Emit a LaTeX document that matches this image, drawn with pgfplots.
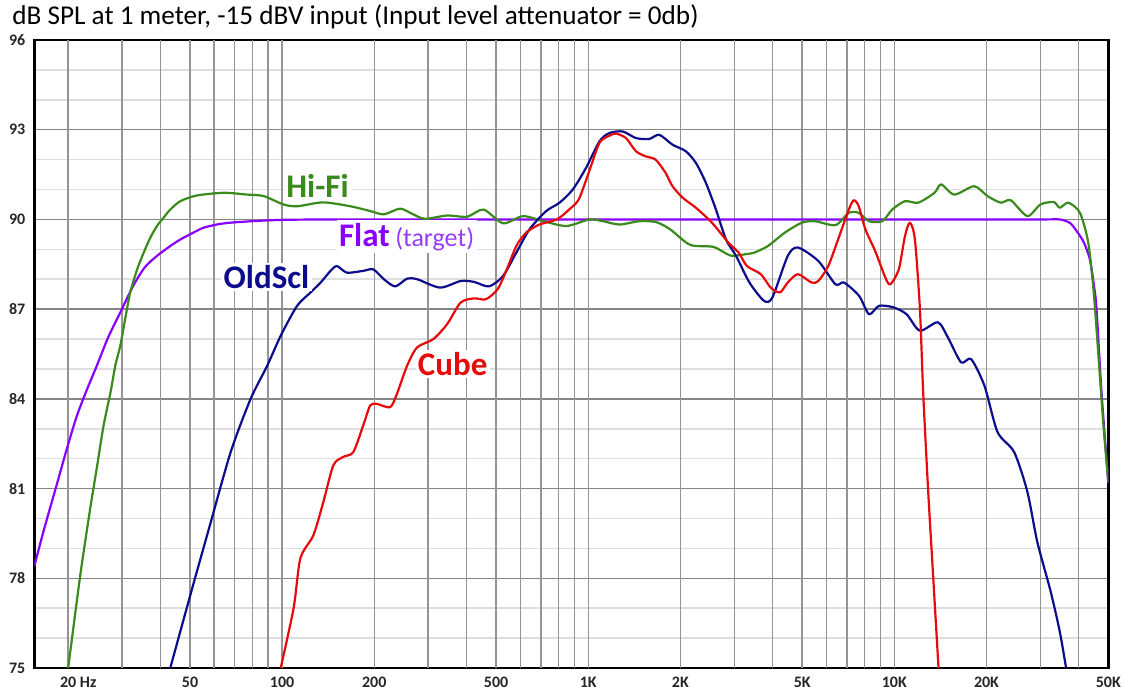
\documentclass[border=0pt]{standalone}
\usepackage{fontspec}
\setmainfont{Carlito}
\usepackage{pgfplots}
\pgfplotsset{compat=1.18}
\definecolor{cgreen}{RGB}{58,138,28}
\definecolor{cpurple}{RGB}{136,0,255}
\definecolor{cnavy}{RGB}{12,12,140}
\definecolor{cred}{RGB}{232,10,10}
\definecolor{cpurplelt}{RGB}{150,60,255}
\tikzset{xlab/.style={anchor=north, inner sep=0pt, yshift=-4.2pt, font=\bfseries\fontsize{8}{9}\selectfont, text=black!85}}
\begin{document}
\begin{tikzpicture}
\begin{axis}[
  xmode=log, scale only axis, width=537pt, height=314pt,
  xmin=15.5, xmax=50000, ymin=75, ymax=96,
  xtick=\empty,
  xmajorgrids=false, xminorgrids=false,
  clip mode=individual,
  ytick={75,78,81,84,87,90,93,96},
  yticklabels={75,78,81,84,87,90,93,\raisebox{-2pt}{96}},
  minor ytick={76,77,79,80,82,83,85,86,88,89,91,92,94,95},
  ymajorgrids=true, yminorgrids=true,
  major y grid style={draw=black!48, line width=0.75pt},
  minor y grid style={draw=black!13, line width=0.75pt},
  axis line style={black, line width=1.3pt},
  major tick length=0pt, minor tick length=0pt,
  tick label style={font=\bfseries\fontsize{8}{9}\selectfont, text=black!85},
  yticklabel style={xshift=-1pt},
  every axis plot/.append style={line width=1.1pt, line join=round, smooth, tension=0.45},
]
\pgfplotsinvokeforeach{20,30,40,50,60,70,80,90,100,200,300,400,500,600,700,800,900,1000,2000,3000,4000,5000,6000,7000,8000,9000,10000,20000,30000,40000}{
  \draw[black!42, line width=0.75pt] (axis cs:#1,75) -- (axis cs:#1,96);
}
% Flat (target)
\addplot[cpurple] coordinates {
(15.5,78.4)(16.6,79.56)(18.2,81.0)(19.8,82.33)(21.3,83.4)(22.8,84.2)(24.9,85.15)(27.0,86.05)
(29.6,86.89)(32.7,87.8)(35.6,88.4)(39.0,88.78)(43.1,89.11)(46.5,89.33)(51.3,89.56)(55.3,89.72)
(61.2,89.83)(67.6,89.89)(82.7,89.95)(106,89.99)(200,90)(1000,90)(10000,90)(30000,90)(34700,90)
(37500,89.88)(39400,89.61)(41500,89.25)(43500,88.67)(45000,87.7)(45760,87.0)(47500,84.23)(50000,81.2)};
% Hi-Fi
\addplot[cgreen] coordinates {
(20.0,75.0)(21.9,78.1)(23.6,80.33)(24.9,81.8)(26.1,83.11)(27.5,84.22)(28.5,85.11)(29.6,85.78)
(30.7,86.67)(31.9,87.56)(33.6,88.33)(35.3,88.89)(37.1,89.39)(39.0,89.78)(41.0,90.06)(43.1,90.33)
(46.5,90.61)(52.6,90.8)(64.5,90.89)(76.9,90.83)(87.1,90.78)(101,90.5)(112,90.44)
(136,90.57)(167,90.44)(194,90.28)(215,90.17)(243,90.36)(268,90.17)(293,90.02)(346,90.13)
(402,90.09)(455,90.33)(527,89.87)(612,90.11)(714,89.94)(849,89.78)(1010,90.0)(1117,89.94)
(1264,89.83)(1470,89.94)(1667,89.91)(1851,89.67)(2152,89.15)(2566,89.08)(2916,88.79)
(3227,88.83)(3484,88.89)(3862,89.11)(4391,89.56)(4986,89.89)(5500,89.94)(6422,89.81)
(7100,90.22)(7650,90.22)(8264,89.94)(9130,89.94)(9840,90.33)(10830,90.61)(11970,90.56)
(13520,90.89)(14220,91.17)(15700,90.83)(18240,91.11)(20150,90.78)(22270,90.56)(24000,90.64)
(27200,90.11)(30000,90.5)(33200,90.58)(34700,90.39)(37000,90.56)(40400,90.22)(43000,89.22)
(44800,87.56)(46500,85.33)(48200,83.11)(50000,81.2)};
% OldScl
\addplot[cnavy] coordinates {
(43.1,75.0)(50.5,77.56)(58.1,79.78)(67.9,82.22)(78.9,84.0)(89.4,85.11)(98.9,86.11)(111.9,87.11)
(123.9,87.56)(133.6,87.89)(143.9,88.28)(151,88.44)(162.8,88.22)(184,88.28)(198.5,88.33)
(215,88.0)(234,87.76)(256,88.02)(276,88.0)(328,87.72)(383,87.94)(424,87.91)(474,87.76)
(527,88.11)(582,88.89)(643,89.67)(729,90.28)(806,90.56)(890,91.0)(983,91.72)(1088,92.61)
(1173,92.89)(1296,92.94)(1432,92.72)(1582,92.69)(1706,92.83)(1885,92.5)(2083,92.28)
(2247,91.89)(2423,91.22)(2613,90.33)(2818,89.33)(3040,88.78)(3362,87.89)(3750,87.28)
(3996,87.39)(4485,88.78)(4842,89.06)(5644,88.61)(6422,87.83)(6845,87.89)(7676,87.44)
(8264,86.83)(8910,87.11)(9930,87.06)(10960,86.83)(12110,86.28)(13870,86.56)(14950,86.06)
(16520,85.22)(17810,85.33)(19690,84.44)(21730,82.89)(24620,82.22)(27200,80.89)(29300,79.22)
(32400,77.56)(34700,76.22)(36400,75.0)};
% Cube
\addplot[cred] coordinates {
(98.9,75.0)(109,77.0)(114.7,78.67)(126.5,79.44)(136.4,80.56)(147,81.78)(158.4,82.06)
(170.8,82.22)(184,83.11)(194,83.78)(204,83.83)(225,83.72)(236,84.11)(256,85.11)(276,85.72)
(312,86.0)(346,86.5)(383,87.22)(424,87.36)(463,87.33)(506,87.67)(542,88.33)(582,89.11)
(627,89.56)(693,89.83)(790,90.0)(866,90.33)(931,90.67)(1003,91.56)(1088,92.56)(1173,92.8)
(1233,92.87)(1328,92.72)(1432,92.28)(1539,92.11)(1659,92.0)(1788,91.56)(1885,91.11)
(2038,90.72)(2247,90.39)(2536,89.89)(2872,89.22)(3100,88.89)(3301,88.44)(3662,88.17)
(3944,87.72)(4230,87.56)(4485,87.89)(4842,88.17)(5360,87.89)(5644,87.94)(6080,88.44)
(6550,89.33)(7100,90.33)(7370,90.64)(7650,90.44)(8040,89.67)(8660,88.94)(9340,88.06)
(9700,87.83)(10340,88.33)(10830,89.44)(11240,89.89)(11670,89.33)(12120,87.0)(12420,84.22)
(12900,80.89)(13380,78.11)(13940,75.0)};
% curve labels
\node[anchor=base, fill=white, inner sep=1.2pt, text=cgreen, font=\bfseries\fontsize{16.5}{18}\selectfont] at (axis cs:130.5,90.72) {Hi-Fi};
\node[anchor=base, fill=white, inner sep=1.2pt, text=cpurple, font=\bfseries\fontsize{16.5}{18}\selectfont] at (axis cs:255,89.11) {Flat\,{\mdseries\fontsize{13}{15}\selectfont\color{cpurplelt}(target)}};
\node[anchor=base, fill=white, inner sep=1.2pt, text=cnavy, font=\bfseries\fontsize{16.5}{18}\selectfont] at (axis cs:88.9,87.7) {OldScl};
\node[anchor=base, fill=white, inner sep=1.2pt, text=cred, font=\bfseries\fontsize{16.5}{18}\selectfont] at (axis cs:360.8,84.78) {Cube};
% x tick labels
\node[xlab] at (axis cs:20,75) {20\rlap{ Hz}};
\node[xlab] at (axis cs:50,75) {50};
\node[xlab] at (axis cs:100,75) {100};
\node[xlab] at (axis cs:200,75) {200};
\node[xlab] at (axis cs:500,75) {500};
\node[xlab] at (axis cs:1000,75) {1K};
\node[xlab] at (axis cs:2000,75) {2K};
\node[xlab] at (axis cs:5000,75) {5K};
\node[xlab] at (axis cs:10000,75) {10K};
\node[xlab] at (axis cs:20000,75) {20K};
\node[xlab] at (axis cs:50000,75) {50K};
\end{axis}
\node[anchor=base west, inner sep=0pt, font=\fontsize{13.6}{16}\selectfont] at (-11.15pt,321.5pt) {dB SPL at 1 meter, -15 dBV input (Input level attenuator = 0db)};
\pgfresetboundingbox
\useasboundingbox (-17.15pt,-13pt) rectangle (544.85pt,334pt);
\end{tikzpicture}
\end{document}
